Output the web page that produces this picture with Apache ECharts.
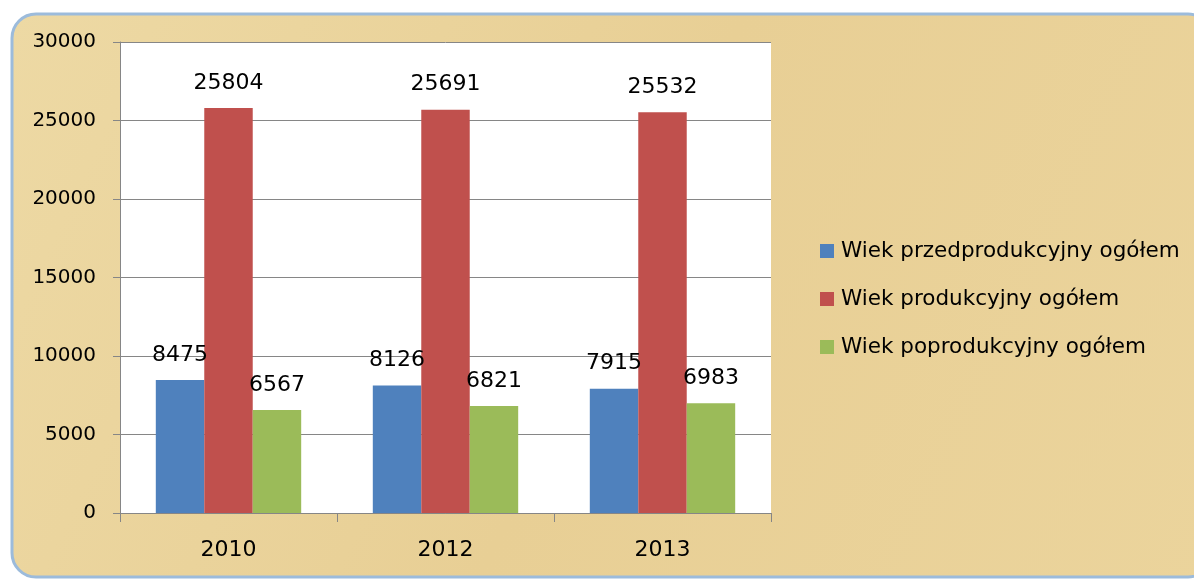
<!DOCTYPE html>
<html>
<head>
<meta charset="utf-8">
<script src="https://cdn.jsdelivr.net/npm/echarts@6/dist/echarts.min.js"></script>
<style>
  html, body { margin: 0; padding: 0; background: #fff; }
  .main { width: 1194px; height: 580px; }
</style>
</head>
<body>
<div class="main"></div>
<script>
var categories = ['2010', '2012', '2013'];
var seriesNames = ['Wiek przedprodukcyjny ogółem', 'Wiek produkcyjny ogółem', 'Wiek poprodukcyjny ogółem'];
var przedprodukcyjny = [8475, 8126, 7915];
var produkcyjny = [25804, 25691, 25532];
var poprodukcyjny = [6567, 6821, 6983];
var yMin = 0, yMax = 30000, yStep = 5000;

var font = 'DejaVu Sans';
var myChart = echarts.init(document.querySelector('.main'));

function bar(name, data, color) {
    return {
        name: name,
        type: 'bar',
        data: data,
        barGap: '0%',
        barCategoryGap: '33%',
        itemStyle: { color: color },
        label: {
            show: true,
            position: 'top',
            distance: 14,
            color: '#000',
            fontFamily: font,
            fontSize: 22
        }
    };
}

option = {
    animation: false,
    backgroundColor: '#fff',
    textStyle: { fontFamily: font },
    graphic: [{
        type: 'rect',
        z: -1,
        shape: { x: 12, y: 14, width: 1200, height: 563, r: 24 },
        style: {
            fill: new echarts.graphic.LinearGradient(0, 0, 1, 1, [
                { offset: 0, color: '#edd9a4' },
                { offset: 0.5, color: '#e8cf95' },
                { offset: 1, color: '#ebd49c' }
            ]),
            stroke: '#9cbbdb',
            lineWidth: 3
        }
    }],
    grid: {
        left: 120,
        top: 42,
        width: 651,
        height: 471,
        show: true,
        backgroundColor: '#fff',
        borderWidth: 0,
        containLabel: false,
        outerBoundsMode: 'none'
    },
    legend: {
        orient: 'vertical',
        left: 815,
        top: 235,
        itemWidth: 14,
        itemHeight: 14,
        itemGap: 26,
        icon: 'rect',
        textStyle: { fontFamily: font, fontSize: 21.5, color: '#000', lineHeight: 21, padding: [0, 0, 0, 2] },
        data: seriesNames
    },
    xAxis: {
        type: 'category',
        data: categories,
        axisLine: { lineStyle: { color: '#868686' } },
        axisTick: { show: true, length: 9, lineStyle: { color: '#868686' } },
        axisLabel: { color: '#000', fontSize: 22, margin: 26 }
    },
    yAxis: {
        type: 'value',
        min: yMin,
        max: yMax,
        interval: yStep,
        axisLine: { show: true, lineStyle: { color: '#868686' } },
        axisTick: { show: true, length: 7, lineStyle: { color: '#868686' } },
        axisLabel: {
            color: '#000',
            fontSize: 20,
            margin: 24,
            formatter: function (v) { return String(v); }
        },
        splitLine: { lineStyle: { color: '#868686' } }
    },
    series: [
        bar(seriesNames[0], przedprodukcyjny, '#4f81bd'),
        bar(seriesNames[1], produkcyjny, '#c0504d'),
        bar(seriesNames[2], poprodukcyjny, '#9bbb59')
    ]
};

myChart.setOption(option);
</script>
</body>
</html>
